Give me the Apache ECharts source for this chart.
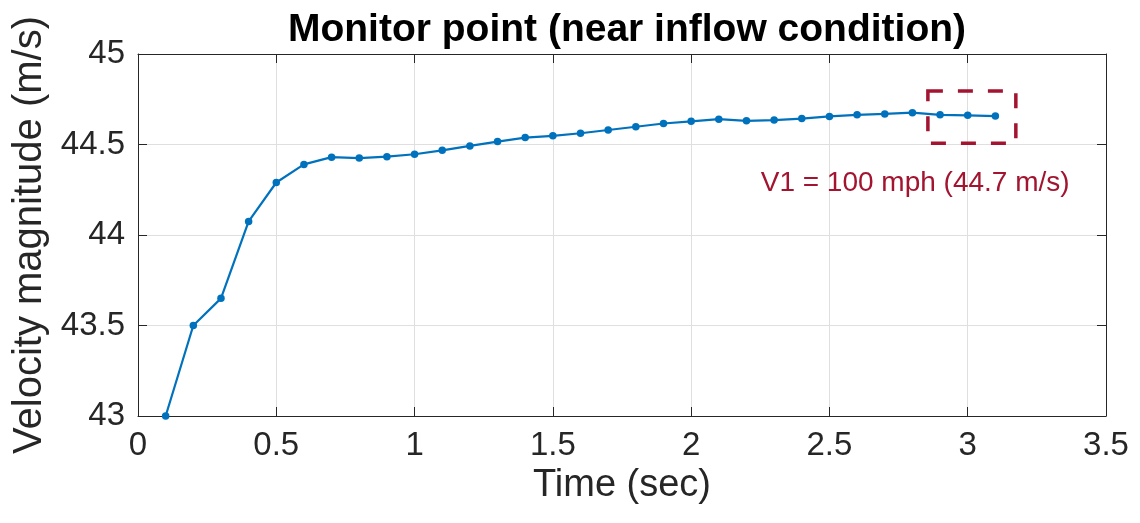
<!DOCTYPE html>
<html>
<head>
<meta charset="utf-8">
<title>Monitor point</title>
<script src="https://cdn.jsdelivr.net/npm/echarts@6/dist/echarts.min.js"></script>
<style>
  html, body { margin: 0; padding: 0; background: #fff; }
  #chart { width: 1140px; height: 523px; }
</style>
</head>
<body>
<div id="chart"></div>
<script>
// time (sec)
var timeSec = [0.1, 0.2, 0.3, 0.4, 0.5, 0.6, 0.7, 0.8, 0.9, 1.0,
  1.1, 1.2, 1.3, 1.4, 1.5, 1.6, 1.7, 1.8, 1.9, 2.0,
  2.1, 2.2, 2.3, 2.4, 2.5, 2.6, 2.7, 2.8, 2.9, 3.0, 3.1];
// velocity magnitude (m/s)
var velocity = [43.0, 43.5, 43.65, 44.075, 44.29, 44.39, 44.43, 44.425, 44.433, 44.446,
  44.468, 44.492, 44.516, 44.538, 44.548, 44.562, 44.58, 44.598, 44.616, 44.628,
  44.64, 44.631, 44.635, 44.643, 44.655, 44.664, 44.669, 44.676, 44.664, 44.661, 44.657];
// dashed box around the last points: [x0, y0], [x1, y1]
var boxCorners = [[2.856, 44.795], [3.174, 44.507]];
var noteText = 'V1 = 100 mph (44.7 m/s)';
var notePos = [2.81, 44.285];

var axisColor = '#262626';
var red = '#A2142F';
var font = 'Liberation Sans, Arial, sans-serif';

var chart = echarts.init(document.getElementById('chart'));

var pts = [];
timeSec.forEach(function (t, i) {
  pts.push([t, velocity[i]]);
});

chart.setOption({
  animation: false,
  title: {
    text: 'Monitor point (near inflow condition)',
    left: 622,
    textAlign: 'center',
    top: 6,
    textStyle: {
      fontFamily: font,
      fontSize: 39,
      fontWeight: 'bold',
      color: '#000'
    }
  },
  grid: {
    left: 138,
    right: 34,
    top: 54,
    bottom: 107,
    containLabel: false
  },
  xAxis: [
    {
      type: 'value',
      min: 0,
      max: 3.5,
      interval: 0.5,
      name: 'Time (sec)',
      nameLocation: 'middle',
      nameGap: 50,
      nameTextStyle: { fontFamily: font, fontSize: 38, color: axisColor },
      axisLine: { show: true, onZero: false, lineStyle: { color: axisColor, width: 1 } },
      axisTick: { show: true, inside: true, length: 9, lineStyle: { color: axisColor } },
      axisLabel: { fontFamily: font, fontSize: 33, color: axisColor, margin: 13 },
      splitLine: { show: true, lineStyle: { color: '#dfdfdf', width: 1 } }
    },
    {
      // top frame
      type: 'value',
      position: 'top',
      min: 0,
      max: 3.5,
      interval: 0.5,
      axisLine: { show: true, onZero: false, lineStyle: { color: axisColor, width: 1 } },
      axisTick: { show: true, inside: true, length: 9, lineStyle: { color: axisColor } },
      axisLabel: { show: false },
      splitLine: { show: false }
    }
  ],
  yAxis: [
    {
      type: 'value',
      min: 43,
      max: 45,
      interval: 0.5,
      name: 'Velocity magnitude (m/s)',
      nameLocation: 'middle',
      nameGap: 86,
      nameTextStyle: { fontFamily: font, fontSize: 40, color: axisColor },
      axisLine: { show: true, onZero: false, lineStyle: { color: axisColor, width: 1 } },
      axisTick: { show: true, inside: true, length: 9, lineStyle: { color: axisColor } },
      axisLabel: { fontFamily: font, fontSize: 33, color: axisColor, margin: 13 },
      splitLine: { show: true, lineStyle: { color: '#dfdfdf', width: 1 } }
    },
    {
      // right frame
      type: 'value',
      position: 'right',
      min: 43,
      max: 45,
      interval: 0.5,
      axisLine: { show: true, onZero: false, lineStyle: { color: axisColor, width: 1 } },
      axisTick: { show: true, inside: true, length: 9, lineStyle: { color: axisColor } },
      axisLabel: { show: false },
      splitLine: { show: false }
    }
  ],
  series: [
    {
      type: 'line',
      xAxisIndex: 0,
      yAxisIndex: 0,
      data: pts,
      clip: false,
      symbol: 'circle',
      symbolSize: 7.5,
      lineStyle: { color: '#0072BD', width: 2.2 },
      itemStyle: { color: '#0072BD' },
      markArea: {
        silent: true,
        itemStyle: {
          color: 'rgba(0,0,0,0)',
          borderColor: red,
          borderWidth: 3.5,
          borderType: [15, 15]
        },
        data: [[
          { coord: boxCorners[0] },
          { coord: boxCorners[1] }
        ]]
      },
      markPoint: {
        silent: true,
        symbol: 'circle',
        symbolSize: 0,
        data: [{
          coord: notePos,
          label: {
            show: true,
            position: 'inside',
            formatter: noteText,
            fontFamily: font,
            fontSize: 28,
            color: red
          }
        }]
      }
    }
  ]
});
</script>
</body>
</html>
